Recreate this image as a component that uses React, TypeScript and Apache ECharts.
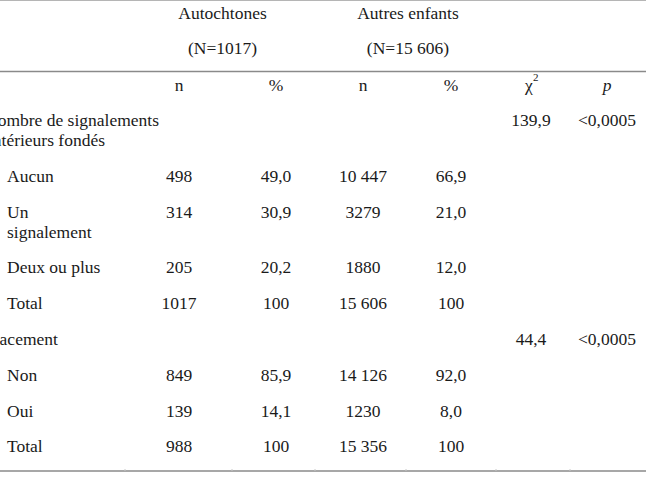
import React, { useEffect, useRef } from "react";
import * as echarts from "echarts";

// ---- Data ----
const groupHeaders = ["Autochtones", "Autres enfants"];
const groupSizes = ["(N=1017)", "(N=15 606)"];
const colHeaders = ["n", "%", "n", "%", "χ", "p"];
const sectionLabels = [["Nombre de signalements", "antérieurs fondés"], ["Placement"]];
const chi2Values = ["139,9", "44,4"];
const pValues = ["<0,0005", "<0,0005"];
const itemLabels = [
  [["Aucun"], ["Un", "signalement"], ["Deux ou plus"], ["Total"]],
  [["Non"], ["Oui"], ["Total"]],
];
const autochtonesN = [["498", "314", "205", "1017"], ["849", "139", "988"]];
const autochtonesPct = [["49,0", "30,9", "20,2", "100"], ["85,9", "14,1", "100"]];
const autresN = [["10 447", "3279", "1880", "15 606"], ["14 126", "1230", "15 356"]];
const autresPct = [["66,9", "21,0", "12,0", "100"], ["92,0", "8,0", "100"]];

// ---- Layout ----
const W = 646;
const H = 477;
const COLS = [179, 276, 363, 451, 531, 607];
const FONT = "'Times New Roman', 'Liberation Serif', 'DejaVu Serif', serif";
const FS = 17.5;
const COLOR = "#1a1a1a";
const START_Y = 120;
const LINE_GAP = 20;
const ROW_GAP = 35.8;
const SECTION_X = -15;
const ITEM_X = 7;
const SEPARATORS = [125, 232, 315, 406, 496, 570];

function txt(text: string, x: number, y: number, align: string = "center", extra: any = {}) {
  return {
    type: "text",
    x,
    y,
    silent: true,
    style: {
      text,
      fill: COLOR,
      fontFamily: FONT,
      fontSize: extra.size || FS,
      fontStyle: extra.italic ? "italic" : "normal",
      align,
      verticalAlign: "middle",
    },
  };
}

function buildGraphics() {
  const els: any[] = [];
  // rules
  els.push({ type: "line", shape: { x1: 0, y1: 0.5, x2: W, y2: 0.5 }, style: { stroke: "#b5b5b5", lineWidth: 1 } });
  els.push({ type: "line", shape: { x1: 0, y1: 71.5, x2: W, y2: 71.5 }, style: { stroke: "#8a8a8a", lineWidth: 1.5 } });
  els.push({ type: "line", shape: { x1: 0, y1: 471, x2: W, y2: 471 }, style: { stroke: "#8a8a8a", lineWidth: 1.5 } });
  SEPARATORS.forEach((sx) => {
    els.push({ type: "line", shape: { x1: sx, y1: 469, x2: sx, y2: 471 }, style: { stroke: "#c8c8c8", lineWidth: 1 } });
  });

  // group headers
  const groupCenters = [(COLS[0] + COLS[1]) / 2 - 5, (COLS[2] + COLS[3]) / 2 + 1];
  groupHeaders.forEach((g, i) => {
    els.push(txt(g, groupCenters[i], 13));
    els.push(txt(groupSizes[i], groupCenters[i], 48));
  });

  // column headers
  colHeaders.forEach((c, i) => {
    const italic = c === "p";
    els.push(txt(c, COLS[i] - (c === "χ" ? 2 : 0), 85, "center", { italic }));
    if (c === "χ") {
      els.push(txt("2", COLS[i] + 2, 77, "left", { size: 11 }));
    }
  });

  // body rows
  let y = START_Y;
  sectionLabels.forEach((lines, s) => {
    lines.forEach((l, k) => {
      els.push(txt(l, SECTION_X, y + k * LINE_GAP, "left"));
    });
    els.push(txt(chi2Values[s], COLS[4], y));
    els.push(txt(pValues[s], COLS[5], y));
    y += (lines.length - 1) * LINE_GAP + ROW_GAP;
    itemLabels[s].forEach((itemLines, r) => {
      itemLines.forEach((l, k) => {
        els.push(txt(l, ITEM_X, y + k * LINE_GAP, "left"));
      });
      els.push(txt(autochtonesN[s][r], COLS[0], y));
      els.push(txt(autochtonesPct[s][r], COLS[1], y));
      els.push(txt(autresN[s][r], COLS[2], y));
      els.push(txt(autresPct[s][r], COLS[3], y));
      y += (itemLines.length - 1) * LINE_GAP + ROW_GAP;
    });
  });
  return els;
}

export default function App() {
  const ref = useRef<HTMLDivElement>(null);
  useEffect(() => {
    if (!ref.current) return;
    const chart = echarts.init(ref.current, null, { renderer: "svg", width: W, height: H });
    chart.setOption({
      animation: false,
      backgroundColor: "#ffffff",
      textStyle: { fontFamily: FONT },
      graphic: buildGraphics(),
    });
    return () => chart.dispose();
  }, []);
  return (
    <div
      ref={ref}
      style={{ position: "absolute", left: 0, top: 0, width: W, height: H, background: "#fff", fontFamily: "serif" }}
    />
  );
}
